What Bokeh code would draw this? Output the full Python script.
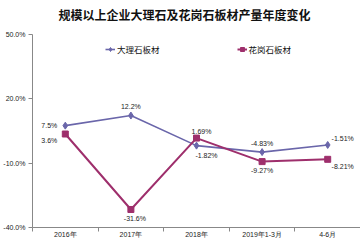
from bokeh.plotting import figure
from bokeh.models import FixedTicker, Legend, LegendItem, ColumnDataSource, Title
from bokeh.core.properties import value
from bokeh.embed import file_html
from bokeh.resources import INLINE

# ---- data ----
categories = ["2016年", "2017年", "2018年", "2019年1-3月", "4-6月"]
marble = [7.5, 12.2, -1.82, -4.83, -1.51]
granite = [3.6, -31.6, 1.69, -9.27, -8.21]
marble_labels = ["7.5%", "12.2%", "-1.82%", "-4.83%", "-1.51%"]
granite_labels = ["3.6%", "-31.6%", "1.69%", "-9.27%", "-8.21%"]
y_ticks = [-40, -10, 20, 50]
y_tick_labels = ["-40.0%", "-10.0%", "20.0%", "50.0%"]
title_text = "规模以上企业大理石及花岗石板材产量年度变化"
series_names = ["大理石板材", "花岗石板材"]

# ---- layout / style ----
marble_color = "#6a66aa"
granite_color = "#9e2f6c"
label_font = "Liberation Sans"
cjk_font = "Noto Sans CJK SC"

xs = list(range(len(categories)))
y_min, y_max = -40, 50

p = figure(width=360, height=240, output_backend="svg", toolbar_location=None,
           x_range=(-0.5, len(categories) - 0.5), y_range=(y_min, y_max),
           min_border_left=32, min_border_right=0, min_border_bottom=10,
           min_border_top=34)
p.outline_line_color = None
p.xgrid.visible = False
p.ygrid.visible = False
p.background_fill_color = "white"
p.border_fill_color = "white"

p.title.text = title_text
p.title.text_font = cjk_font
p.title.text_font_size = "12px"
p.title.text_font_style = "bold"
p.title.text_color = "#111111"
p.title.align = "left"
p.title.vertical_align = "top"
p.title.offset = 26
p.title.standoff = 4

# spacer between the title and the plot area
p.add_layout(Title(text=" ", text_font_size="6px", standoff=0), "above")

# y axis
ya = p.yaxis[0]
ya.ticker = FixedTicker(ticks=y_ticks)
ya.major_label_overrides = {t: l for t, l in zip(y_ticks, y_tick_labels)}
ya.major_label_text_font = label_font
ya.major_label_text_font_size = "7px"
ya.major_label_text_color = "#222222"
ya.major_label_standoff = 3
ya.major_tick_out = 4
ya.major_tick_in = 0
ya.minor_tick_line_color = None
ya.axis_line_color = "#888888"
ya.major_tick_line_color = "#888888"

# x axis: labels at category centres, tick marks between categories
xa = p.xaxis[0]
xa.ticker = FixedTicker(ticks=xs, minor_ticks=[i - 0.5 for i in range(len(categories) + 1)])
xa.major_label_overrides = {i: c for i, c in zip(xs, categories)}
xa.major_label_text_font = label_font
xa.major_label_text_font_size = "7px"
xa.major_label_text_color = "#222222"
xa.major_tick_line_color = None
xa.major_tick_out = 0
xa.major_tick_in = 0
xa.major_label_standoff = -1
xa.minor_tick_out = 4
xa.minor_tick_in = 0
xa.minor_tick_line_color = "#888888"
xa.axis_line_color = "#888888"

# series
src_m = ColumnDataSource(dict(x=xs, y=marble, t=marble_labels,
                              dx=[-8, 0, 10, 0, 15], dy=[0, -9, 10, -9, -6],
                              al=["right", "center", "center", "center", "center"]))
src_g = ColumnDataSource(dict(x=xs, y=granite, t=granite_labels,
                              dx=[-8, 4, 5, 0, 15], dy=[6, 9, -7, 9, 7],
                              al=["right", "center", "center", "center", "center"]))

lm = p.line("x", "y", source=src_m, line_color=marble_color, line_width=1.6)
mm = p.scatter("x", "y", source=src_m, marker="diamond", size=7,
               fill_color=marble_color, line_color=marble_color)
lg = p.line("x", "y", source=src_g, line_color=granite_color, line_width=2)
mg = p.scatter("x", "y", source=src_g, marker="square", size=6,
               fill_color=granite_color, line_color=granite_color)

for src in (src_m, src_g):
    p.text("x", "y", text="t", source=src, x_offset="dx", y_offset="dy",
           text_align="al", text_baseline="middle",
           text_font=value(label_font), text_font_size="7px", text_color="#222222")

legend = Legend(items=[LegendItem(label=series_names[0], renderers=[lm, mm]),
                       LegendItem(label=series_names[1], renderers=[lg, mg])],
                orientation="horizontal", location=(73, 172),
                label_text_font=cjk_font, label_text_font_size="8.5px",
                label_text_color="#111111", label_standoff=2,
                glyph_width=10, glyph_height=10, spacing=77,
                padding=0, margin=0, border_line_color=None,
                background_fill_alpha=0)
p.add_layout(legend, "center")

open("out.html", "w").write(file_html(p, INLINE))
